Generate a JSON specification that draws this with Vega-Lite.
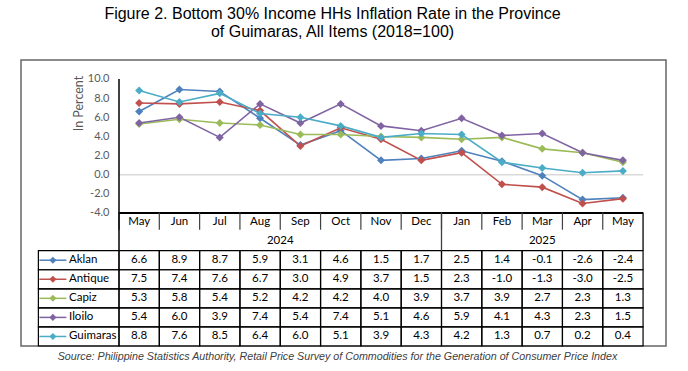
{
  "$schema": "https://vega.github.io/schema/vega-lite/v6.json",
  "width": 645,
  "height": 311,
  "autosize": "none",
  "padding": {"left": 21, "top": 60, "right": 22, "bottom": 0},
  "background": "white",
  "title": {
    "text": ["Figure 2. Bottom 30% Income HHs Inflation Rate in the Province", "of Guimaras, All Items (2018=100)"],
    "font": "Liberation Sans", "fontSize": 16, "fontWeight": "normal", "color": "#000000",
    "lineHeight": 18.5, "anchor": "middle", "dx": -11, "offset": 19
  },
  "config": {
    "view": {"stroke": null},
    "locale": {"number": {"decimal": ".", "thousands": ",", "grouping": [3], "currency": ["$", ""], "minus": "-"}}
  },
  "datasets": {
    "main": [
      {"series": "Aklan", "month": "2024-05", "value": 6.6},
      {"series": "Aklan", "month": "2024-06", "value": 8.9},
      {"series": "Aklan", "month": "2024-07", "value": 8.7},
      {"series": "Aklan", "month": "2024-08", "value": 5.9},
      {"series": "Aklan", "month": "2024-09", "value": 3.1},
      {"series": "Aklan", "month": "2024-10", "value": 4.6},
      {"series": "Aklan", "month": "2024-11", "value": 1.5},
      {"series": "Aklan", "month": "2024-12", "value": 1.7},
      {"series": "Aklan", "month": "2025-01", "value": 2.5},
      {"series": "Aklan", "month": "2025-02", "value": 1.4},
      {"series": "Aklan", "month": "2025-03", "value": -0.1},
      {"series": "Aklan", "month": "2025-04", "value": -2.6},
      {"series": "Aklan", "month": "2025-05", "value": -2.4},
      {"series": "Antique", "month": "2024-05", "value": 7.5},
      {"series": "Antique", "month": "2024-06", "value": 7.4},
      {"series": "Antique", "month": "2024-07", "value": 7.6},
      {"series": "Antique", "month": "2024-08", "value": 6.7},
      {"series": "Antique", "month": "2024-09", "value": 3.0},
      {"series": "Antique", "month": "2024-10", "value": 4.9},
      {"series": "Antique", "month": "2024-11", "value": 3.7},
      {"series": "Antique", "month": "2024-12", "value": 1.5},
      {"series": "Antique", "month": "2025-01", "value": 2.3},
      {"series": "Antique", "month": "2025-02", "value": -1.0},
      {"series": "Antique", "month": "2025-03", "value": -1.3},
      {"series": "Antique", "month": "2025-04", "value": -3.0},
      {"series": "Antique", "month": "2025-05", "value": -2.5},
      {"series": "Capiz", "month": "2024-05", "value": 5.3},
      {"series": "Capiz", "month": "2024-06", "value": 5.8},
      {"series": "Capiz", "month": "2024-07", "value": 5.4},
      {"series": "Capiz", "month": "2024-08", "value": 5.2},
      {"series": "Capiz", "month": "2024-09", "value": 4.2},
      {"series": "Capiz", "month": "2024-10", "value": 4.2},
      {"series": "Capiz", "month": "2024-11", "value": 4.0},
      {"series": "Capiz", "month": "2024-12", "value": 3.9},
      {"series": "Capiz", "month": "2025-01", "value": 3.7},
      {"series": "Capiz", "month": "2025-02", "value": 3.9},
      {"series": "Capiz", "month": "2025-03", "value": 2.7},
      {"series": "Capiz", "month": "2025-04", "value": 2.3},
      {"series": "Capiz", "month": "2025-05", "value": 1.3},
      {"series": "Iloilo", "month": "2024-05", "value": 5.4},
      {"series": "Iloilo", "month": "2024-06", "value": 6.0},
      {"series": "Iloilo", "month": "2024-07", "value": 3.9},
      {"series": "Iloilo", "month": "2024-08", "value": 7.4},
      {"series": "Iloilo", "month": "2024-09", "value": 5.4},
      {"series": "Iloilo", "month": "2024-10", "value": 7.4},
      {"series": "Iloilo", "month": "2024-11", "value": 5.1},
      {"series": "Iloilo", "month": "2024-12", "value": 4.6},
      {"series": "Iloilo", "month": "2025-01", "value": 5.9},
      {"series": "Iloilo", "month": "2025-02", "value": 4.1},
      {"series": "Iloilo", "month": "2025-03", "value": 4.3},
      {"series": "Iloilo", "month": "2025-04", "value": 2.3},
      {"series": "Iloilo", "month": "2025-05", "value": 1.5},
      {"series": "Guimaras", "month": "2024-05", "value": 8.8},
      {"series": "Guimaras", "month": "2024-06", "value": 7.6},
      {"series": "Guimaras", "month": "2024-07", "value": 8.5},
      {"series": "Guimaras", "month": "2024-08", "value": 6.4},
      {"series": "Guimaras", "month": "2024-09", "value": 6.0},
      {"series": "Guimaras", "month": "2024-10", "value": 5.1},
      {"series": "Guimaras", "month": "2024-11", "value": 3.9},
      {"series": "Guimaras", "month": "2024-12", "value": 4.3},
      {"series": "Guimaras", "month": "2025-01", "value": 4.2},
      {"series": "Guimaras", "month": "2025-02", "value": 1.3},
      {"series": "Guimaras", "month": "2025-03", "value": 0.7},
      {"series": "Guimaras", "month": "2025-04", "value": 0.2},
      {"series": "Guimaras", "month": "2025-05", "value": 0.4}
    ],
    "months": [
      {"month": "2024-05", "label": "May"},
      {"month": "2024-06", "label": "Jun"},
      {"month": "2024-07", "label": "Jul"},
      {"month": "2024-08", "label": "Aug"},
      {"month": "2024-09", "label": "Sep"},
      {"month": "2024-10", "label": "Oct"},
      {"month": "2024-11", "label": "Nov"},
      {"month": "2024-12", "label": "Dec"},
      {"month": "2025-01", "label": "Jan"},
      {"month": "2025-02", "label": "Feb"},
      {"month": "2025-03", "label": "Mar"},
      {"month": "2025-04", "label": "Apr"},
      {"month": "2025-05", "label": "May"}
    ],
    "series": [
      {"series": "Aklan"},
      {"series": "Antique"},
      {"series": "Capiz"},
      {"series": "Iloilo"},
      {"series": "Guimaras"}
    ],
    "one": [{}]
  },
  "data": {"name": "main"},
  "resolve": {"scale": {"y": "independent"}, "axis": {"y": "independent"}},
  "layer": [
    {
      "data": {"name": "one"},
      "mark": {"type": "rect", "filled": false, "stroke": "#666666", "strokeWidth": 1.5},
      "encoding": {
        "y": {"datum": "_1", "type": "nominal", "bandPosition": 0, "axis": null, "scale": {"type": "band", "domain": ["_1", "_2", "_3", "_4", "_5", "_6", "_7", "_8", "hdr", "yr", "Aklan", "Antique", "Capiz", "Iloilo", "Guimaras", "src"], "paddingInner": 0, "paddingOuter": 0.1555, "align": 0}},
        "y2": {"datum": "Guimaras", "bandPosition": 1}
      }
    },
    {
      "data": {"name": "one"},
      "mark": {"type": "rule", "color": "#d9d9d9", "strokeWidth": 1.5},
      "encoding": {
        "x": {
          "datum": "2024-05", "type": "ordinal", "bandPosition": 0,
          "scale": {
            "type": "band",
            "domain": ["L1", "L2", "2024-05", "2024-06", "2024-07", "2024-08", "2024-09", "2024-10", "2024-11", "2024-12", "2025-01", "2025-02", "2025-03", "2025-04", "2025-05"],
            "paddingInner": 0, "paddingOuter": 0.5, "align": 0.431
          },
          "axis": null
        },
        "x2": {"datum": "2025-05", "bandPosition": 1},
        "y": {"datum": 0, "type": "quantitative", "axis": null, "scale": {"domain": [-20.5075, 11.98507], "nice": false, "zero": false}}
      }
    },
    {
      "data": {"name": "one"},
      "mark": {"type": "rule", "color": "#000000", "strokeWidth": 1.5},
      "encoding": {
        "x": {"datum": "2024-05", "type": "ordinal", "bandPosition": 0, "axis": null},
        "y": {"datum": 10, "type": "quantitative", "axis": null, "scale": {"domain": [-20.5075, 11.98507], "nice": false, "zero": false}},
        "y2": {"datum": -4}
      }
    },
    {
      "data": {"name": "one"},
      "mark": {"type": "rule", "color": "#000000", "strokeWidth": 2},
      "encoding": {
        "x": {"datum": "2024-05", "type": "ordinal", "bandPosition": 0, "axis": null},
        "x2": {"datum": "2025-05", "bandPosition": 1},
        "y": {"datum": -4, "type": "quantitative", "axis": null, "scale": {"domain": [-20.5075, 11.98507], "nice": false, "zero": false}}
      }
    },
    {
      "mark": {"type": "line", "strokeWidth": 1.6},
      "encoding": {
        "x": {"field": "month", "type": "ordinal", "bandPosition": 0.5, "axis": null},
        "y": {
          "field": "value", "type": "quantitative",
          "scale": {"domain": [-20.5075, 11.98507], "nice": false, "zero": false},
          "axis": {
            "orient": "left",
            "values": [-4, -2, 0, 2, 4, 6, 8, 10], "format": ".1f",
            "domain": false, "ticks": false, "grid": false, "offset": -98, "labelPadding": 10,
            "labelFont": "Lato", "labelFontSize": 11, "labelColor": "#595959", "labelFlush": false, "labelOverlap": false,
            "title": "In Percent", "titleFont": "Lato", "titleFontSize": 12.5, "titleFontWeight": "normal", "titleColor": "#595959",
            "titleX": -41, "titleY": 43, "titleBaseline": "middle", "titleAlign": "center", "titleAngle": -90
          }
        },
        "color": {
          "field": "series", "type": "nominal", "legend": null,
          "scale": {"domain": ["Aklan", "Antique", "Capiz", "Iloilo", "Guimaras"], "range": ["#4F81BD", "#C0504D", "#9BBB59", "#8064A2", "#4BACC6"]}
        }
      }
    },
    {
      "mark": {"type": "point", "shape": "diamond", "filled": true, "size": 64, "opacity": 1},
      "encoding": {
        "x": {"field": "month", "type": "ordinal", "bandPosition": 0.5, "axis": null},
        "y": {"field": "value", "type": "quantitative", "axis": null, "scale": {"domain": [-20.5075, 11.98507], "nice": false, "zero": false}},
        "color": {"field": "series", "type": "nominal", "legend": null}
      }
    },
    {
      "mark": {"type": "rect", "filled": false, "stroke": "#000000", "strokeWidth": 1.2},
      "encoding": {
        "x": {"field": "month", "type": "ordinal", "axis": null},
        "y": {"field": "series", "type": "nominal", "axis": null, "scale": {"type": "band", "domain": ["_1", "_2", "_3", "_4", "_5", "_6", "_7", "_8", "hdr", "yr", "Aklan", "Antique", "Capiz", "Iloilo", "Guimaras", "src"], "paddingInner": 0, "paddingOuter": 0.1555, "align": 0}}
      }
    },
    {
      "mark": {"type": "text", "font": "Lato", "fontSize": 11.5, "color": "#000000"},
      "encoding": {
        "x": {"field": "month", "type": "ordinal", "axis": null},
        "y": {"field": "series", "type": "nominal", "axis": null, "scale": {"type": "band", "domain": ["_1", "_2", "_3", "_4", "_5", "_6", "_7", "_8", "hdr", "yr", "Aklan", "Antique", "Capiz", "Iloilo", "Guimaras", "src"], "paddingInner": 0, "paddingOuter": 0.1555, "align": 0}},
        "text": {"field": "value", "type": "quantitative", "format": ".1f"}
      }
    },
    {
      "data": {"name": "months"},
      "mark": {"type": "rule", "color": "#404040", "strokeWidth": 1.2},
      "encoding": {
        "x": {"field": "month", "type": "ordinal", "bandPosition": 0, "axis": null},
        "y": {"datum": "hdr", "type": "nominal", "bandPosition": 0, "axis": null, "scale": {"type": "band", "domain": ["_1", "_2", "_3", "_4", "_5", "_6", "_7", "_8", "hdr", "yr", "Aklan", "Antique", "Capiz", "Iloilo", "Guimaras", "src"], "paddingInner": 0, "paddingOuter": 0.1555, "align": 0}},
        "y2": {"datum": "hdr", "bandPosition": 0.9}
      }
    },
    {
      "data": {"name": "months"},
      "mark": {"type": "text", "font": "Lato", "fontSize": 11.5, "color": "#000000"},
      "encoding": {
        "x": {"field": "month", "type": "ordinal", "axis": null},
        "y": {"datum": "hdr", "type": "nominal", "axis": null, "scale": {"type": "band", "domain": ["_1", "_2", "_3", "_4", "_5", "_6", "_7", "_8", "hdr", "yr", "Aklan", "Antique", "Capiz", "Iloilo", "Guimaras", "src"], "paddingInner": 0, "paddingOuter": 0.1555, "align": 0}},
        "text": {"field": "label", "type": "nominal"}
      }
    },
    {
      "data": {"name": "one"},
      "mark": {"type": "rule", "color": "#000000", "strokeWidth": 1.5},
      "encoding": {
        "x": {"datum": "2024-05", "type": "ordinal", "bandPosition": 0, "axis": null},
        "y": {"datum": "hdr", "type": "nominal", "bandPosition": 0, "axis": null, "scale": {"type": "band", "domain": ["_1", "_2", "_3", "_4", "_5", "_6", "_7", "_8", "hdr", "yr", "Aklan", "Antique", "Capiz", "Iloilo", "Guimaras", "src"], "paddingInner": 0, "paddingOuter": 0.1555, "align": 0}},
        "y2": {"datum": "yr", "bandPosition": 1}
      }
    },
    {
      "data": {"name": "one"},
      "mark": {"type": "rule", "color": "#404040", "strokeWidth": 1.3},
      "encoding": {
        "x": {"datum": "2025-01", "type": "ordinal", "bandPosition": 0, "axis": null},
        "y": {"datum": "hdr", "type": "nominal", "bandPosition": 0, "axis": null, "scale": {"type": "band", "domain": ["_1", "_2", "_3", "_4", "_5", "_6", "_7", "_8", "hdr", "yr", "Aklan", "Antique", "Capiz", "Iloilo", "Guimaras", "src"], "paddingInner": 0, "paddingOuter": 0.1555, "align": 0}},
        "y2": {"datum": "yr", "bandPosition": 1}
      }
    },
    {
      "data": {"name": "one"},
      "mark": {"type": "rule", "color": "#000000", "strokeWidth": 1.3},
      "encoding": {
        "x": {"datum": "2025-05", "type": "ordinal", "bandPosition": 1, "axis": null},
        "y": {"datum": "hdr", "type": "nominal", "bandPosition": 0, "axis": null, "scale": {"type": "band", "domain": ["_1", "_2", "_3", "_4", "_5", "_6", "_7", "_8", "hdr", "yr", "Aklan", "Antique", "Capiz", "Iloilo", "Guimaras", "src"], "paddingInner": 0, "paddingOuter": 0.1555, "align": 0}},
        "y2": {"datum": "yr", "bandPosition": 1}
      }
    },
    {
      "data": {"name": "one"},
      "mark": {"type": "text", "font": "Lato", "fontSize": 11.5, "color": "#000000", "text": "2024"},
      "encoding": {
        "x": {"datum": "2024-09", "type": "ordinal", "bandPosition": 0, "axis": null},
        "y": {"datum": "yr", "type": "nominal", "axis": null, "scale": {"type": "band", "domain": ["_1", "_2", "_3", "_4", "_5", "_6", "_7", "_8", "hdr", "yr", "Aklan", "Antique", "Capiz", "Iloilo", "Guimaras", "src"], "paddingInner": 0, "paddingOuter": 0.1555, "align": 0}}
      }
    },
    {
      "data": {"name": "one"},
      "mark": {"type": "text", "font": "Lato", "fontSize": 11.5, "color": "#000000", "text": "2025"},
      "encoding": {
        "x": {"datum": "2025-03", "type": "ordinal", "bandPosition": 0.5, "axis": null},
        "y": {"datum": "yr", "type": "nominal", "axis": null, "scale": {"type": "band", "domain": ["_1", "_2", "_3", "_4", "_5", "_6", "_7", "_8", "hdr", "yr", "Aklan", "Antique", "Capiz", "Iloilo", "Guimaras", "src"], "paddingInner": 0, "paddingOuter": 0.1555, "align": 0}}
      }
    },
    {
      "data": {"name": "series"},
      "mark": {"type": "rect", "filled": false, "stroke": "#000000", "strokeWidth": 1.2},
      "encoding": {
        "x": {"datum": "L1", "type": "ordinal", "bandPosition": 0, "axis": null},
        "x2": {"datum": "L2", "bandPosition": 1},
        "y": {"field": "series", "type": "nominal", "axis": null, "scale": {"type": "band", "domain": ["_1", "_2", "_3", "_4", "_5", "_6", "_7", "_8", "hdr", "yr", "Aklan", "Antique", "Capiz", "Iloilo", "Guimaras", "src"], "paddingInner": 0, "paddingOuter": 0.1555, "align": 0}}
      }
    },
    {
      "data": {"name": "series"},
      "mark": {"type": "point", "shape": "M-1,0L1,0", "filled": false, "size": 729, "strokeWidth": 1.5, "opacity": 1},
      "encoding": {
        "x": {"datum": "L1", "type": "ordinal", "bandPosition": 0.36, "axis": null},
        "y": {"field": "series", "type": "nominal", "axis": null, "scale": {"type": "band", "domain": ["_1", "_2", "_3", "_4", "_5", "_6", "_7", "_8", "hdr", "yr", "Aklan", "Antique", "Capiz", "Iloilo", "Guimaras", "src"], "paddingInner": 0, "paddingOuter": 0.1555, "align": 0}},
        "color": {"field": "series", "type": "nominal", "legend": null}
      }
    },
    {
      "data": {"name": "series"},
      "mark": {"type": "point", "shape": "diamond", "filled": true, "size": 50, "opacity": 1},
      "encoding": {
        "x": {"datum": "L1", "type": "ordinal", "bandPosition": 0.36, "axis": null},
        "y": {"field": "series", "type": "nominal", "axis": null, "scale": {"type": "band", "domain": ["_1", "_2", "_3", "_4", "_5", "_6", "_7", "_8", "hdr", "yr", "Aklan", "Antique", "Capiz", "Iloilo", "Guimaras", "src"], "paddingInner": 0, "paddingOuter": 0.1555, "align": 0}},
        "color": {"field": "series", "type": "nominal", "legend": null}
      }
    },
    {
      "data": {"name": "series"},
      "mark": {"type": "text", "font": "Lato", "fontSize": 11.5, "color": "#000000", "align": "left"},
      "encoding": {
        "x": {"datum": "L1", "type": "ordinal", "bandPosition": 0.76, "axis": null},
        "y": {"field": "series", "type": "nominal", "axis": null, "scale": {"type": "band", "domain": ["_1", "_2", "_3", "_4", "_5", "_6", "_7", "_8", "hdr", "yr", "Aklan", "Antique", "Capiz", "Iloilo", "Guimaras", "src"], "paddingInner": 0, "paddingOuter": 0.1555, "align": 0}},
        "text": {"field": "series", "type": "nominal"}
      }
    },
    {
      "data": {"name": "one"},
      "mark": {"type": "text", "font": "Liberation Sans", "fontSize": 10.7, "fontStyle": "italic", "color": "#404040", "dx": -6, "dy": 1.5, "text": "Source: Philippine Statistics Authority, Retail Price Survey of Commodities for the Generation of Consumer Price Index"},
      "encoding": {
        "y": {"datum": "src", "type": "nominal", "axis": null, "scale": {"type": "band", "domain": ["_1", "_2", "_3", "_4", "_5", "_6", "_7", "_8", "hdr", "yr", "Aklan", "Antique", "Capiz", "Iloilo", "Guimaras", "src"], "paddingInner": 0, "paddingOuter": 0.1555, "align": 0}}
      }
    }
  ]
}
